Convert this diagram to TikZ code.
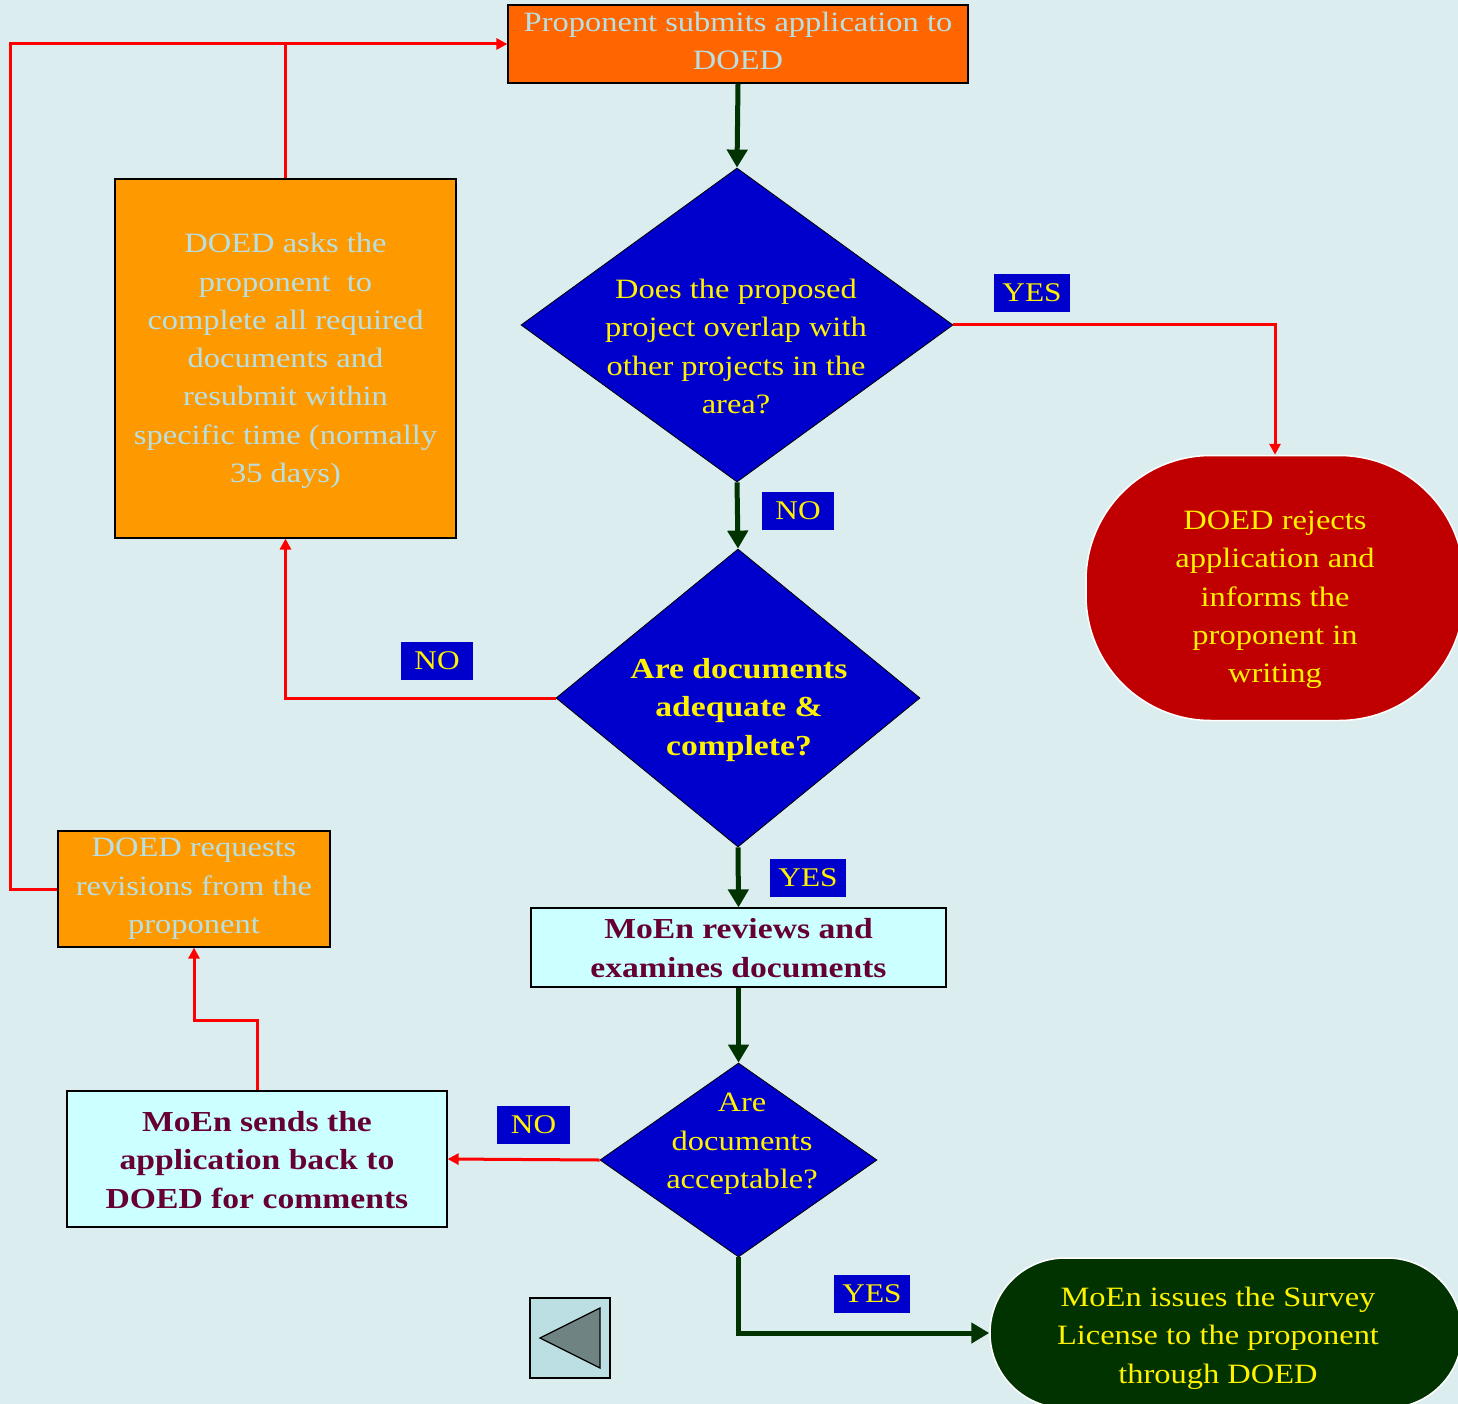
\documentclass[tikz,border=0pt]{standalone}
\usepackage{fontspec}
\setmainfont{Liberation Serif}[FakeStretch=1.16]
\usetikzlibrary{arrows.meta,shapes.geometric}
\definecolor{bgc}{HTML}{DBEDEF}
\definecolor{orgA}{HTML}{FF6600}
\definecolor{orgB}{HTML}{FF9900}
\definecolor{lbtext}{HTML}{B8E0E4}
\definecolor{dblue}{HTML}{0000CC}
\definecolor{dred}{HTML}{C00000}
\definecolor{dgreen}{HTML}{003300}
\definecolor{cyanbox}{HTML}{CCFFFF}
\definecolor{maroon}{HTML}{660033}
\definecolor{btnfill}{HTML}{BBDFE3}
\definecolor{btntri}{HTML}{6F8383}
\tikzset{
  x=1pt,y=-1pt,
  rectbox/.style={draw=black,line width=1.2pt,inner sep=0pt},
  diam/.style={diamond,draw=black,line width=0.8pt,fill=dblue,inner sep=0pt,aspect=1},
  txt/.style={align=center,inner sep=0pt},
  lbl/.style={fill=dblue,text=yellow,minimum width=76pt,minimum height=38pt,inner sep=0pt,font=\fontsize{27}{30}\selectfont},
  garrow/.style={draw=dgreen,line width=5pt,-{Triangle[width=20pt,length=18pt]}},
  rarrow/.style={draw=red,line width=3pt,-{Triangle[width=11pt,length=11pt]}},
  rline/.style={draw=red,line width=3pt},
}
\begin{document}
\begin{tikzpicture}
\useasboundingbox (0,0) rectangle (1458,1404);
\fill[bgc] (0,0) rectangle (1458,1404);
\begin{scope}
\clip (0,0) rectangle (1458,1404);
% top box
\node[rectbox,fill=orgA,minimum width=460pt,minimum height=78pt] (top) at (738,44) {};
\node[txt,text=lbtext,font=\fontsize{28}{38}\selectfont] (toptxt) at (738,41) {Proponent submits application to\\DOED};
% diamond 1
\node[diam,minimum width=432pt,minimum height=314pt] (d1) at (737,325) {};
\node[txt,text=yellow,font=\fontsize{28}{38.3}\selectfont] (d1txt) at (736,346.5) {Does the proposed\\project overlap with\\other projects in the\\area?};
% reject terminal
\node[draw=white,line width=1.5pt,fill=dred,rounded corners=125pt,minimum width=378pt,minimum height=265pt,inner sep=0pt] (rej) at (1275,588) {};
\node[txt,text=yellow,font=\fontsize{28}{38.3}\selectfont] (rejtxt) at (1275,600) {DOED rejects\\application and\\informs the\\proponent in\\writing};
% diamond 2
\node[diam,minimum width=364pt,minimum height=298pt] (d2) at (738,698) {};
\node[txt,text=yellow,font=\bfseries\fontsize{29}{38.5}\selectfont] (d2txt) at (739,710) {Are documents\\adequate \&\\complete?};
% DOED asks box
\node[rectbox,fill=orgB,minimum width=341pt,minimum height=359pt] (ask) at (285.5,358.5) {};
\node[txt,text=lbtext,font=\fontsize{28}{38.3}\selectfont] (asktxt) at (285.5,361) {DOED asks the\\proponent\ \ to\\complete all required\\documents and\\resubmit within\\specific time (normally\\35 days)};
% DOED requests box
\node[rectbox,fill=orgB,minimum width=272pt,minimum height=116pt] (req) at (194,889) {};
\node[txt,text=lbtext,font=\fontsize{28}{38.3}\selectfont] (reqtxt) at (194,889) {DOED requests\\revisions from the\\proponent};
% MoEn reviews
\node[rectbox,fill=cyanbox,minimum width=415pt,minimum height=79pt] (rev) at (738.5,947.5) {};
\node[txt,text=maroon,font=\bfseries\fontsize{29}{39}\selectfont] (revtxt) at (738.5,948.5) {MoEn reviews and\\examines documents};
% diamond 3
\node[diam,minimum width=277pt,minimum height=194pt] (d3) at (738.5,1160) {};
\node[txt,text=yellow,font=\fontsize{28}{38.5}\selectfont] (d3txt) at (742,1144) {Are\\documents\\acceptable?};
% MoEn sends
\node[rectbox,fill=cyanbox,minimum width=380pt,minimum height=136pt] (send) at (257,1159) {};
\node[txt,text=maroon,font=\bfseries\fontsize{29}{38.5}\selectfont] (sendtxt) at (257,1160) {MoEn sends the\\application back to\\DOED for comments};
% issue terminal
\node[draw=white,line width=1.5pt,fill=dgreen,rounded corners=75pt,minimum width=472pt,minimum height=150pt,inner sep=0pt] (iss) at (1226,1333) {};
\node[txt,text=yellow,font=\fontsize{28}{38.3}\selectfont] (isstxt) at (1218,1338) {MoEn issues the Survey\\License to the proponent\\through DOED};
% labels
\node[lbl] (yes1) at (1032,293) {YES};
\node[lbl,minimum width=72pt] (no1) at (798,510.5) {NO};
\node[lbl,minimum width=72pt] (no2) at (437,661) {NO};
\node[lbl] (yes2) at (808,877.5) {YES};
\node[lbl,minimum width=73pt] (no3) at (533.5,1124.5) {NO};
\node[lbl] (yes3) at (872,1293.5) {YES};
% back button
\node[draw=black,line width=1.2pt,fill=btnfill,minimum width=80pt,minimum height=80pt,inner sep=0pt] (btn) at (570,1338) {};
\filldraw[fill=btntri,draw=black,line width=1.2pt] (540,1338) -- (600,1308) -- (600,1368) -- cycle;
% coordinates
\coordinate (j1) at (285.5,44);
\coordinate (c3) at (10,889);
\coordinate (c5) at (257,1020);
\coordinate (c6) at (194,1020);
% green arrows
\draw[garrow] (top.south) -- (d1.north);
\draw[garrow] (d1.south) -- (d2.north);
\draw[garrow] (d2.south) -- (rev.north);
\draw[garrow] (rev.south) -- (d3.north);
\draw[garrow] (d3.south) |- (iss.west);
% red connectors
\draw[rarrow] (d1.east) -| (rej.north);
\draw[rarrow] (d2.west) -| (ask.south);
\draw[rline] (ask.north) -- (j1);
\draw[rarrow] (req.west) -- (c3) |- (top.west);
\draw[rarrow] (d3.west) -- (send.east);
\draw[rarrow] (send.north) -- (c5) -- (c6) -- (req.south);
\end{scope}
\end{tikzpicture}
\end{document}
